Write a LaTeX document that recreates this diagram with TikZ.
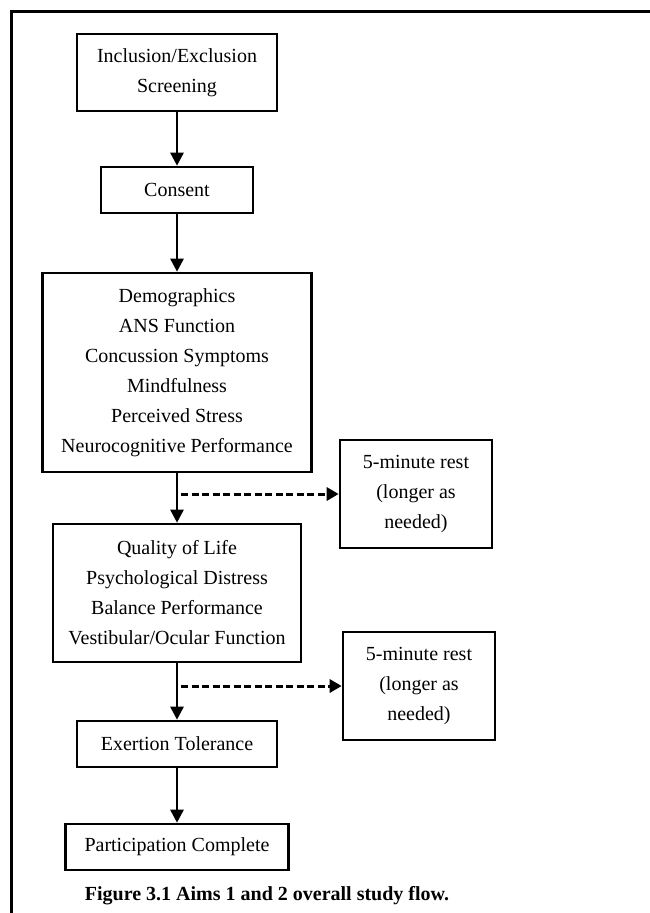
\documentclass[tikz,border=0pt]{standalone}
\usepackage{fontspec}
\setmainfont{Liberation Serif}
\usetikzlibrary{arrows.meta}
\begin{document}
\begin{tikzpicture}[x=1pt,y=-1pt,
  every node/.style={font=\fontsize{20}{30}\selectfont},
  stepbox/.style={draw,line width=2.6pt,align=center,inner sep=0pt,anchor=center},
  flow/.style={line width=2.6pt,-{Triangle[length=13pt,width=13pt]}},
  restflow/.style={line width=3pt,dash pattern=on 7pt off 3.5pt,-{Triangle[length=12pt,width=13pt]}}]
  \useasboundingbox (0,0) rectangle (650,913);
  \clip (0,0) rectangle (650,913);
  % outer frame (runs past the page on the right and bottom)
  \draw[line width=3pt] (11,930) -- (11,11) -- (670,11);

  \node[stepbox,minimum width=200pt,minimum height=77pt] (screen) at (177,72.5)
    {Inclusion/Exclusion\\Screening};
  \node[stepbox,minimum width=152pt,minimum height=46pt] (consent) at (177,190)
    {Consent};
  \node[stepbox,minimum width=269pt,minimum height=199pt] (base) at (177,372.5)
    {Demographics\\ANS Function\\Concussion Symptoms\\Mindfulness\\Perceived Stress\\Neurocognitive Performance};
  \node[stepbox,minimum width=248pt,minimum height=138pt] (clinic) at (177,593)
    {Quality of Life\\Psychological Distress\\Balance Performance\\Vestibular/Ocular Function};
  \node[stepbox,minimum width=200pt,minimum height=46pt] (exert) at (177,744)
    {Exertion Tolerance};
  \node[stepbox,minimum width=223pt,minimum height=46pt] (done) at (177,847)
    {Participation Complete};
  \node[stepbox,minimum width=152pt,minimum height=108pt] (restA) at (416,494)
    {5-minute rest\\(longer as\\needed)};
  \node[stepbox,minimum width=152pt,minimum height=108pt] (restB) at (419,686)
    {5-minute rest\\(longer as\\needed)};

  \draw[flow] (screen) -- (consent);
  \draw[flow] (consent) -- (base);
  \draw[flow] (base) -- (clinic);
  \draw[flow] (clinic) -- (exert);
  \draw[flow] (exert) -- (done);

  \coordinate (splitA) at (181,494);
  \coordinate (splitB) at (181,686);
  \draw[restflow] (splitA) -- (restA.west);
  \draw[restflow] (splitB) -- (restB.west);

  \node[font=\fontsize{20}{30}\selectfont\bfseries] (caption) at (267,896)
    {Figure 3.1 Aims 1 and 2 overall study flow.};
\end{tikzpicture}
\end{document}
